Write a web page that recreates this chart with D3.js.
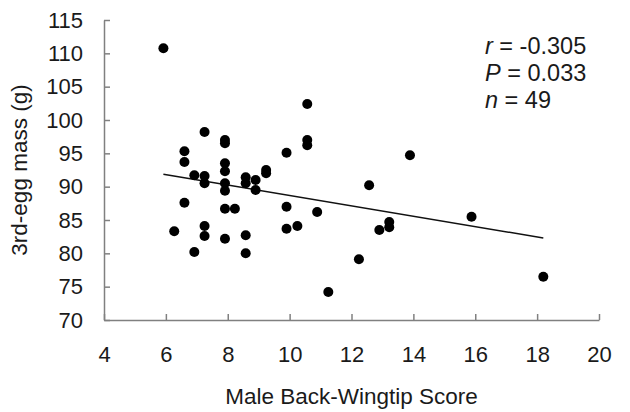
<!DOCTYPE html>
<html>
<head>
<meta charset="utf-8">
<script src="https://cdn.jsdelivr.net/npm/d3@7"></script>
<style>
  body { margin: 0; background: #fff; }
  svg { display: block; font-family: "Liberation Sans", Arial, Helvetica, sans-serif; }
</style>
</head>
<body>
<div id="chart"></div>
<script>
let width = 630;
let height = 412;
let margin = {top: 20, right: 31, bottom: 92, left: 104};

// back-wingtip score (x) and 3rd-egg mass (y)
let scores = [5.92, 6.27, 6.6, 6.6, 6.6, 6.92, 6.92, 7.25, 7.25, 7.25, 7.25, 7.25,
    7.91, 7.91, 7.91, 7.91, 7.91, 7.91, 7.91, 7.91, 8.23, 8.58, 8.58, 8.58, 8.58,
    8.9, 8.9, 9.24, 9.24, 9.9, 9.9, 9.9, 10.25, 10.57, 10.57, 10.57, 10.89, 11.25,
    12.24, 12.57, 12.9, 13.22, 13.22, 13.89, 15.88, 18.2];
let masses = [110.75, 83.3, 95.3, 93.7, 87.6, 91.7, 80.2, 98.2, 91.6, 90.5, 84.1, 82.6,
    97.0, 96.5, 93.5, 92.3, 90.5, 89.4, 86.7, 82.2, 86.7, 91.4, 90.5, 82.7, 80.0,
    91.0, 89.5, 92.5, 92.0, 95.1, 87.0, 83.7, 84.1, 102.4, 97.0, 96.2, 86.2, 74.2,
    79.1, 90.2, 83.5, 84.7, 83.9, 94.7, 85.5, 76.5];

// fitted line as drawn (start and end of the data range)
let fitX = [5.92, 18.2];
let fitY = [91.85, 82.3];

let xTicks = [4, 6, 8, 10, 12, 14, 16, 18, 20];
let yTicks = [70, 75, 80, 85, 90, 95, 100, 105, 110, 115];

let stats = [["r", " = -0.305"], ["P", " = 0.033"], ["n", " = 49"]];

let data = scores.map((s, i) => ({x: s, y: masses[i]}));

let x = d3.scaleLinear().domain([4, 20]).range([margin.left, width - margin.right]);
let y = d3.scaleLinear().domain([70, 115]).range([height - margin.bottom, margin.top]);

let svg = d3.select("#chart").append("svg")
    .attr("width", width)
    .attr("height", height);

let axisColor = "#808080";
let textColor = "#1a1a1a";

let xAxis = svg.append("g")
    .attr("transform", `translate(0,${height - margin.bottom})`)
    .call(d3.axisBottom(x).tickValues(xTicks).tickSize(-6).tickSizeOuter(0).tickPadding(26));

let yAxis = svg.append("g")
    .attr("transform", `translate(${margin.left},0)`)
    .call(d3.axisLeft(y).tickValues(yTicks).tickSize(-6).tickSizeOuter(0).tickPadding(21));

for (const g of [xAxis, yAxis]) {
    g.select(".domain").attr("stroke", axisColor).attr("stroke-width", 1.5);
    g.selectAll(".tick line").attr("stroke", axisColor).attr("stroke-width", 1.5);
    g.selectAll(".tick text")
        .attr("fill", textColor)
        .attr("font-size", 22)
        .attr("font-family", "Liberation Sans, Arial, sans-serif");
}

let line = d3.line().x(d => x(d[0])).y(d => y(d[1]));
svg.append("path")
    .attr("d", line(fitX.map((v, i) => [v, fitY[i]])))
    .attr("fill", "none")
    .attr("stroke", "#111")
    .attr("stroke-width", 1.5);

svg.append("g")
    .selectAll("circle")
    .data(data)
    .join("circle")
    .attr("cx", d => x(d.x))
    .attr("cy", d => y(d.y))
    .attr("r", 5)
    .attr("fill", "#000");

// axis titles
svg.append("text")
    .attr("x", (margin.left + width - margin.right) / 2)
    .attr("y", 404)
    .attr("text-anchor", "middle")
    .attr("font-size", 22.5)
    .attr("fill", textColor)
    .text("Male Back-Wingtip Score");

svg.append("text")
    .attr("transform", `translate(27,${(margin.top + height - margin.bottom) / 2}) rotate(-90)`)
    .attr("text-anchor", "middle")
    .attr("font-size", 22.5)
    .attr("fill", textColor)
    .text("3rd-egg mass (g)");

// stats block
let st = svg.append("g").attr("font-size", 23.5).attr("fill", textColor);
st.selectAll("text")
    .data(stats)
    .join("text")
    .attr("x", 485)
    .attr("y", (d, i) => 54 + i * 27)
    .each(function (d) {
        let t = d3.select(this);
        t.append("tspan").attr("font-style", "italic").text(d[0]);
        t.append("tspan").text(d[1]);
    });
</script>
</body>
</html>
